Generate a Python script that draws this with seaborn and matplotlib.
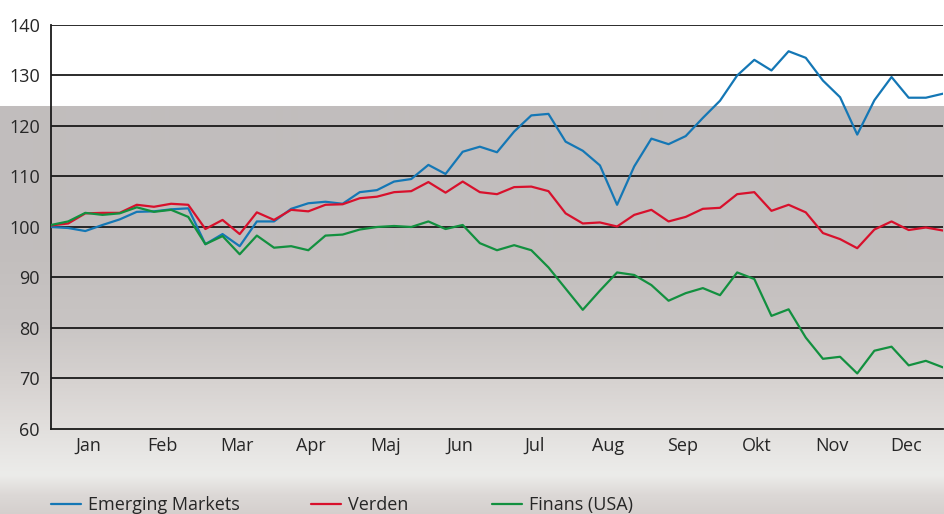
import numpy as np
import pandas as pd
import matplotlib
matplotlib.use("Agg")
import matplotlib.pyplot as plt
import seaborn as sns
from matplotlib.lines import Line2D

months = ["Jan", "Feb", "Mar", "Apr", "Maj", "Jun", "Jul", "Aug", "Sep", "Okt", "Nov", "Dec"]
series_names = ["Emerging Markets", "Verden", "Finans (USA)"]

emerging = [100.0, 99.8, 99.2, 100.4, 101.5, 103.0, 103.1, 103.5, 103.7, 96.6,
            98.6, 96.2, 101.1, 101.1, 103.6, 104.7, 105.0, 104.6, 106.9, 107.3,
            109.0, 109.5, 112.3, 110.5, 114.9, 115.9, 114.8, 118.9, 122.1, 122.4,
            116.9, 115.1, 112.2, 104.4, 112.0, 117.5, 116.4, 118.0, 121.6, 125.0,
            130.0, 133.1, 131.0, 134.8, 133.5, 129.0, 125.7, 118.3, 125.1, 129.7,
            125.6, 125.6, 126.4]
verden = [100.3, 100.7, 102.7, 102.8, 102.8, 104.4, 104.0, 104.6, 104.4, 99.6,
          101.4, 98.6, 102.9, 101.4, 103.4, 103.1, 104.4, 104.5, 105.7, 106.0,
          106.9, 107.1, 108.9, 106.8, 109.0, 106.9, 106.5, 107.9, 108.0, 107.1,
          102.7, 100.7, 100.9, 100.1, 102.4, 103.4, 101.1, 102.0, 103.6, 103.8,
          106.5, 106.9, 103.2, 104.4, 102.9, 98.8, 97.6, 95.8, 99.5, 101.1,
          99.4, 99.9, 99.3]
finans = [100.4, 101.1, 102.8, 102.4, 102.7, 103.9, 103.0, 103.4, 102.0, 96.6,
          98.2, 94.6, 98.3, 95.9, 96.2, 95.4, 98.3, 98.5, 99.5, 100.0,
          100.2, 100.0, 101.1, 99.6, 100.4, 96.8, 95.4, 96.4, 95.4, 92.0,
          87.8, 83.6, 87.4, 91.0, 90.5, 88.5, 85.4, 86.9, 87.9, 86.5,
          91.0, 89.7, 82.4, 83.7, 78.1, 73.9, 74.3, 71.0, 75.5, 76.3,
          72.6, 73.5, 72.2]
weeks = list(range(len(emerging)))
y_ticks = [60, 70, 80, 90, 100, 110, 120, 130, 140]

df = pd.DataFrame({
    "uge": weeks * 3,
    "indeks": emerging + verden + finans,
    "serie": [series_names[0]] * len(weeks) + [series_names[1]] * len(weeks) + [series_names[2]] * len(weeks),
})

palette = {"Emerging Markets": "#1477b5", "Verden": "#d8102c", "Finans (USA)": "#12903f"}

sns.set_style("white")
plt.rcParams["font.family"] = ["Open Sans", "DejaVu Sans"]

W, H = 944, 514
fig = plt.figure(figsize=(W / 100, H / 100), dpi=100)

# background: white top, grey photographic gradient below
bg = fig.add_axes([0, 0, 1, 1], zorder=-10)
bg.set_axis_off()
ys = np.array([0, 105, 106, 250, 320, 380, 420, 455, 475, 495, 514])
cols = np.array([
    [255, 255, 255], [255, 255, 255], [193, 189, 189], [194, 190, 189],
    [200, 196, 195], [214, 210, 208], [224, 221, 219], [232, 231, 229],
    [236, 236, 234], [220, 216, 214], [212, 207, 205]]) / 255.0
rows = np.arange(H)
img = np.zeros((H, 1, 3))
for c in range(3):
    img[:, 0, c] = np.interp(rows, ys, cols[:, c])
bg.imshow(img, aspect="auto", extent=[0, 1, 0, 1], interpolation="bilinear")
bg.set_xlim(0, 1)
bg.set_ylim(0, 1)

left, right = 51 / W, 943 / W
bottom, top = 1 - 429 / H, 1 - 25 / H
ax = fig.add_axes([left, bottom, right - left, top - bottom])
ax.patch.set_alpha(0)

for yv in y_ticks[1:]:
    ax.axhline(yv, color="#1a1a1a", lw=1.3, zorder=1)

sns.lineplot(data=df, x="uge", y="indeks", hue="serie", palette=palette,
             hue_order=series_names, linewidth=1.6, ax=ax, legend=False, zorder=3)

ax.set_xlim(0, 52)
ax.set_ylim(60, 140)
ax.set_xlabel("")
ax.set_ylabel("")

FS = 13
month_w = 52 / 12
ax.set_xticks([i * month_w for i in range(13)])
ax.set_xticklabels([])
ax.set_xticks([(i + 0.5) * month_w for i in range(12)], minor=True)
ax.set_xticklabels(months, minor=True, fontsize=FS)
ax.tick_params(axis="x", which="major", length=6, width=1.2, color="#1a1a1a", direction="out")
ax.tick_params(axis="x", which="minor", length=0, pad=5.5)
ax.set_yticks(y_ticks)
ax.set_yticklabels([str(v) for v in y_ticks], fontsize=FS)
ax.tick_params(axis="y", length=6, width=1.2, color="#1a1a1a", pad=2)

for s in ["top", "right"]:
    ax.spines[s].set_visible(False)
for s in ["left", "bottom"]:
    ax.spines[s].set_color("#1a1a1a")
    ax.spines[s].set_linewidth(1.3)

legend_x = [51, 311, 492]
for name, lx in zip(series_names, legend_x):
    h = Line2D([0], [0], color=palette[name], lw=1.6)
    fig.legend([h], [name], loc="center left", frameon=False,
               bbox_to_anchor=(lx / W, 1 - 505 / H), fontsize=FS,
               handlelength=1.65, handletextpad=0.4, borderaxespad=0,
               borderpad=0)

fig.savefig("out.png", dpi=100)
